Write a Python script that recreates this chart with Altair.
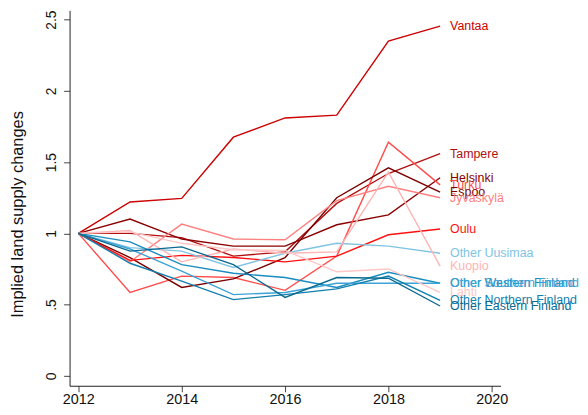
import altair as alt
import pandas as pd

years = [2012, 2013, 2014, 2015, 2016, 2017, 2018, 2019]

names = ["Vantaa", "Tampere", "Helsinki", "Turku", "Espoo", "Jyväskylä", "Oulu",
         "Other Uusimaa", "Kuopio", "Other Western Finland", "Other Southern Finland",
         "Lahti", "Other Northern Finland", "Other Eastern Finland"]

vantaa = [1, 1.22, 1.245, 1.675, 1.81, 1.83, 2.35, 2.455]
tampere = [1, 1.0, 0.97, 0.84, 0.87, 1.21, 1.42, 1.56]
helsinki = [1, 1.10, 0.96, 0.91, 0.91, 1.06, 1.13, 1.39]
turku = [1, 0.585, 0.70, 0.69, 0.60, 0.84, 1.64, 1.34]
espoo = [1, 0.83, 0.62, 0.68, 0.83, 1.25, 1.46, 1.29]
jyvaskyla = [1, 0.80, 1.065, 0.96, 0.955, 1.23, 1.33, 1.25]
oulu = [1, 0.81, 0.845, 0.83, 0.80, 0.84, 0.99, 1.03]
other_uusimaa = [1, 0.90, 0.875, 0.76, 0.86, 0.93, 0.91, 0.86]
kuopio = [1, 1.02, 0.80, 0.89, 0.86, 0.87, 1.43, 0.77]
other_western = [1, 0.94, 0.78, 0.72, 0.69, 0.62, 0.727, 0.65]
other_southern = [1, 0.89, 0.735, 0.57, 0.585, 0.65, 0.65, 0.65]
lahti = [1, 1.01, 0.93, 0.885, 0.88, 0.73, 0.75, 0.585]
other_northern = [1, 0.79, 0.665, 0.535, 0.57, 0.61, 0.70, 0.53]
other_eastern = [1, 0.875, 0.905, 0.78, 0.55, 0.69, 0.685, 0.49]

series = [vantaa, tampere, helsinki, turku, espoo, jyvaskyla, oulu, other_uusimaa,
          kuopio, other_western, other_southern, lahti, other_northern, other_eastern]

colors = ["#cc0000", "#b01010", "#8b0000", "#ff4c4c", "#7a0000", "#ff8080", "#ff1010",
          "#80c4e4", "#ffb4b4", "#1a8cbf", "#3ca3d6", "#ffc6c6", "#137fae", "#0b6a8f"]

x_ticks = [2012, 2014, 2016, 2018, 2020]
y_ticks = [0, 0.5, 1, 1.5, 2, 2.5]

rows = []
for n, vals in zip(names, series):
    for yr, v in zip(years, vals):
        rows.append({"region": n, "year": yr, "value": v})
df = pd.DataFrame(rows)
last = df[df["year"] == years[-1]]

color = alt.Color("region:N", scale=alt.Scale(domain=names, range=colors), legend=None)

x = alt.X("year:Q", scale=alt.Scale(domain=[2011.83, 2020.17], nice=False, zero=False),
          axis=alt.Axis(values=x_ticks, format="d", title=None, grid=False,
                        tickSize=6, labelPadding=1, labelFontSize=14.5,
                        labelFont="Liberation Sans", labelColor="#111",
                        domainColor="#222", tickColor="#444"))
y = alt.Y("value:Q", scale=alt.Scale(domain=[-0.07, 2.565], nice=False, zero=False),
          axis=alt.Axis(values=y_ticks,
                        labelExpr="replace(format(datum.value, '.1~f'), /^0\\./, '.')",
                        title="Implied land supply changes", grid=False,
                        tickSize=6, labelPadding=5, labelFontSize=14, labelAngle=-90,
                        labelAlign="center", labelBaseline="bottom",
                        labelFont="Liberation Sans", labelColor="#111",
                        titleFont="Liberation Sans", titleFontSize=16.5, titleFontWeight="normal",
                        titleColor="#111", titleAngle=-90, titleAlign="center",
                        titleBaseline="middle", titleX=-52, titleY=205,
                        domainColor="#222", tickColor="#444"))

lines = alt.Chart(df).mark_line(strokeWidth=1.4).encode(
    x=x, y=y, color=color, detail="region:N",
    order=alt.Order("year:Q"))

labels = alt.Chart(last).mark_text(align="left", baseline="middle", dx=10,
                                   fontSize=12.5, font="Liberation Sans").encode(
    x="year:Q", y="value:Q", text="region:N", color=color)

chart = alt.layer(lines, labels).properties(
    width=434, height=378,
    autosize=alt.AutoSizeParams(type="none"),
    padding={"left": 62, "top": 1, "right": 80, "bottom": 24},
).configure_view(stroke=None)

chart.save("out.html", embed_options={"renderer": "svg", "actions": False})
